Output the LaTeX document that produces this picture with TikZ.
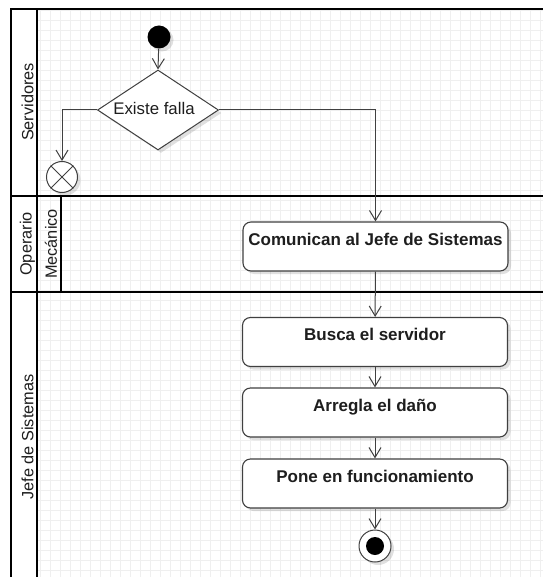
\documentclass[tikz,border=0pt]{standalone}
\usepackage{fontspec}
\setmainfont{Liberation Sans}
\usetikzlibrary{shapes.geometric,arrows.meta,shadows}
\definecolor{ln}{HTML}{404040}
\definecolor{tx}{HTML}{1E1E1E}
\definecolor{gridc}{HTML}{EFEFEF}
\begin{document}
\begin{tikzpicture}[x=1pt,y=-1pt,
  lane/.style={line width=1.8pt,black},
  shad/.style={drop shadow={shadow xshift=3pt,shadow yshift=-3pt,fill=black,opacity=0.12}},
  act/.style={draw=ln,line width=1.1pt,fill=white,rounded corners=8pt,minimum width=265pt,minimum height=49pt,inner sep=0pt,text=tx,font=\fontsize{17}{20}\selectfont\bfseries,shad},
  dec/.style={diamond,aspect=1.5,draw=ln,line width=1pt,fill=white,minimum width=121pt,minimum height=80pt,inner sep=0pt,text=tx,font=\fontsize{16.8}{20}\selectfont,shad},
  lbl/.style={rotate=90,text=tx,font=\fontsize{16.3}{19}\selectfont},
  flow/.style={draw=ln,line width=1pt,-{Straight Barb[length=10pt,width=12pt,line width=1pt]}}
]
\useasboundingbox (0,0) rectangle (543,577);
\fill[white] (0,0) rectangle (543,577);
% grid
\foreach \x in {40,50,...,540} \draw[gridc,line width=0.6pt] (\x,9) -- (\x,577);
\foreach \y in {10,20,...,570} \draw[gridc,line width=0.6pt] (37,\y) -- (543,\y);
% swimlane frame
\draw[lane] (11,577) -- (11,9) -- (543,9);
\draw[lane] (37,9) -- (37,577);
\draw[lane] (11,196) -- (543,196);
\draw[lane] (11,292) -- (543,292);
\draw[lane] (61,196) -- (61,292);
% lane labels
\node[lbl] (l1) at (27.5,102) {Servidores};
\node[lbl] (l2) at (27.5,244) {Operario};
\node[lbl] (l3) at (51,244) {Mecánico};
\node[lbl] (l4) at (27.5,437) {Jefe de Sistemas};
% nodes
\node[circle,fill=black,minimum size=23pt,inner sep=0pt,shad] (start) at (159,37) {};
\node[dec] (d) at (158,110) {\hspace*{-8pt}\raisebox{3pt}{Existe falla}};
\node[circle,draw=ln,line width=1pt,fill=white,minimum size=31pt,inner sep=0pt,shad] (ff) at (62,177) {};
\draw[ln,line width=1pt] (ff.45) -- (ff.225) (ff.135) -- (ff.-45);
\node[act] (c1) at (375.5,246.5) {\raisebox{15pt}{Comunican al Jefe de Sistemas}};
\node[act] (b1) at (375,342) {\raisebox{15pt}{Busca el servidor}};
\node[act] (b2) at (375,412.5) {\raisebox{15pt}{Arregla el daño}};
\node[act] (b3) at (375,483.5) {\raisebox{15pt}{Pone en funcionamiento}};
\node[circle,draw=ln,line width=1pt,fill=white,minimum size=32pt,inner sep=0pt,shad,
  path picture={\fill[black] (path picture bounding box.center) circle (9pt);}] (end) at (375,546) {};
% connectors
\draw[flow] (start) -- (d.north);
\draw[flow] (d.west) -| (ff.north);
\draw[flow] (d.east) -| (c1.north);
\draw[flow] (c1) -- (b1);
\draw[flow] (b1) -- (b2);
\draw[flow] (b2) -- (b3);
\draw[flow] (b3) -- (end);
\end{tikzpicture}
\end{document}
